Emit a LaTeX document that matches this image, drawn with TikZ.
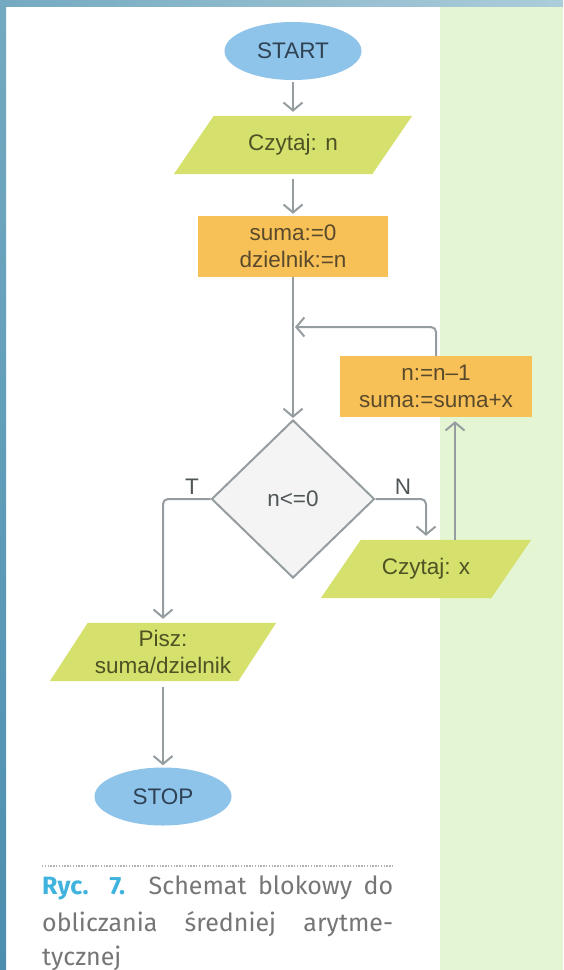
\documentclass[tikz,border=0pt]{standalone}
\usepackage{fontspec}
\setmainfont{Liberation Sans}
\newfontfamily\capfont{Fira Sans}
\usetikzlibrary{shapes.geometric,arrows.meta,calc}
\definecolor{stripL}{HTML}{74AAC1}
\definecolor{stripR}{HTML}{ACCDDA}
\definecolor{stripB}{HTML}{4C8EB0}
\definecolor{greenpanel}{HTML}{E4F5D3}
\definecolor{termblue}{HTML}{8EC3EA}
\definecolor{termtext}{HTML}{2E4254}
\definecolor{iofill}{HTML}{D6E06C}
\definecolor{iotext}{HTML}{4E5224}
\definecolor{procor}{HTML}{F8C158}
\definecolor{proctext}{HTML}{5A4A2C}
\definecolor{decfill}{HTML}{F3F4F3}
\definecolor{dectext}{HTML}{505558}
\definecolor{linec}{HTML}{959DA1}
\definecolor{capblue}{HTML}{3FB3DD}
\definecolor{capgray}{HTML}{767676}
\pgfdeclarelayer{back}
\pgfdeclarelayer{mid}
\pgfsetlayers{back,mid,main}
\newcommand\parafill[2]{%
  \begin{pgfonlayer}{mid}
    \fill[iofill] ($(#1.north west)+(#2/2,0)$) -- ($(#1.north east)+(#2/2,0)$)
      -- ($(#1.south east)+(-#2/2,0)$) -- ($(#1.south west)+(-#2/2,0)$) -- cycle;
  \end{pgfonlayer}}
\begin{document}
\begin{tikzpicture}[x=1pt,y=-1pt,
  txt/.style={font=\fontsize{22.5}{27}\selectfont, align=center, inner sep=0pt},
  term/.style={txt, ellipse, fill=termblue, text=termtext, minimum width=137pt, minimum height=58pt},
  proc/.style={txt, rectangle, fill=procor, text=proctext, minimum height=61pt},
  io/.style={txt, rectangle, text=iotext, minimum height=58pt},
  decis/.style={txt, diamond, fill=decfill, draw=linec, line width=2pt, minimum width=163pt, minimum height=158pt, text=dectext},
  conn/.style={draw=linec, line width=2pt, -{Straight Barb[length=8pt,width=19pt]}},
  lbl/.style={txt, text=dectext},
  captxt/.style={font=\capfont\fontsize{25}{30}\selectfont, text=capgray, inner sep=0pt}
]
\useasboundingbox (0,0) rectangle (563,970);
\begin{pgfonlayer}{back}
  \fill[white] (0,0) rectangle (563,970);
  \fill[greenpanel] (440,6) rectangle (563,970);
  \shade[left color=stripL, right color=stripR] (0,0) rectangle (563,6);
  \shade[top color=stripL, bottom color=stripB] (0,0) rectangle (6,970);
\end{pgfonlayer}

% nodes
\node[term] (start) at (293,51) {START};
\node[io, minimum width=198pt] (czn) at (293,145) {Czytaj: n};
\parafill{czn}{40}
\node[proc, minimum width=190pt] (init) at (293,246.5) {suma:=0\\dzielnik:=n};
\node[decis] (dec) at (293,499) {n<=0};
\node[proc, minimum width=192pt] (upd) at (436,386.5) {n:=n--1\\suma:=suma+x};
\node[io, minimum width=170pt] (czx) at (426,569) {Czytaj: x};
\parafill{czx}{40}
\node[io, minimum width=188pt] (pisz) at (163,652) {Pisz:\\suma/dzielnik};
\parafill{pisz}{38}
\node[term] (stop) at (163,796.5) {STOP};

% labels
\node[lbl, anchor=south] (tl) at (192,495) {T};
\node[lbl, anchor=south] (nl) at (403,495) {N};

% connectors
\coordinate (join) at (295,327);
\draw[conn, shorten <=2pt, shorten >=4pt] (start) -- (czn);
\draw[conn, shorten <=5pt, shorten >=2pt] (czn) -- (init);
\draw[conn, shorten >=1pt] (init) -- (dec);
\draw[conn, rounded corners=5pt] (upd.north) |- (join);
\draw[conn, rounded corners=5pt, shorten >=4pt] (dec.east) -| (czx.north);
\draw[conn, shorten >=4pt] ([xshift=29pt]czx.north) -- ([xshift=29pt]czx.north |- upd.south);
\draw[conn, rounded corners=5pt, shorten >=4pt] (dec.west) -| (pisz.north);
\draw[conn, shorten <=6pt, shorten >=2pt] (pisz) -- (stop);

% caption
\draw[black!30, line width=1.3pt, dash pattern=on 1.3pt off 1.5pt] (42,866) -- (393,866);
\node[captxt, anchor=base west] (cap1) at (42,894) {\makebox[351pt][s]{\textcolor{capblue}{\bfseries Ryc. 7.} Schemat blokowy do}};
\node[captxt, anchor=base west] (cap2) at (42,931) {\makebox[351pt][s]{obliczania średniej arytme-}};
\node[captxt, anchor=base west] (cap3) at (42,965) {tycznej};
\end{tikzpicture}
\end{document}
